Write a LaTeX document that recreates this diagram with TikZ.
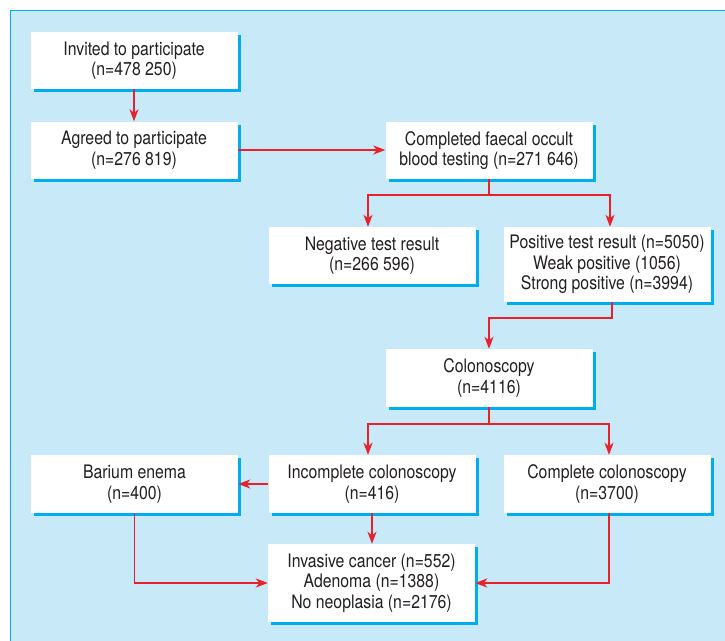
\documentclass[tikz,border=0pt]{standalone}
\usepackage{fontspec}
\setmainfont{TeX Gyre Heros}[FakeStretch=0.85]
\usetikzlibrary{arrows.meta,shadows}
\definecolor{bgblue}{HTML}{C8E9F8}
\definecolor{shcyan}{HTML}{00AEEF}
\definecolor{arrred}{HTML}{E8212B}
\definecolor{txt}{HTML}{231F20}
\tikzset{
  box/.style={rectangle, fill=white, minimum width=207pt, minimum height=57pt,
    inner sep=0pt, align=center, text=txt,
    font=\fontsize{18.6}{20.4}\selectfont,
    general shadow={fill=shcyan, shadow xshift=3pt, shadow yshift=-3pt}},
  tallbox/.style={box, minimum height=77pt},
  arr/.style={draw=arrred, line width=1.8pt,
    -{Stealth[length=12pt,width=9pt,inset=3.5pt]}},
}
\begin{document}
\begin{tikzpicture}[x=1pt,y=-1pt]
\useasboundingbox (0,0) rectangle (725,640);
\clip (0,0) rectangle (725,640);
\fill[white] (0,0) rectangle (725,640);
\draw[fill=bgblue, draw=shcyan, line width=1.5pt] (10.5,10.5) rectangle (740,660);

\node[box] (inv) at (134,60.5) {Invited to participate\\(n=478 250)};
\node[box] (agr) at (134,150) {Agreed to participate\\(n=276 819)};
\node[box] (fobt) at (489,150.5) {Completed faecal occult\\blood testing (n=271 646)};
\node[box] (neg) at (372,255.5) {Negative test result\\(n=266 596)};
\node[tallbox, minimum height=75pt] (pos) at (607,264.5) {Positive test result (n=5050)\\Weak positive (1056)\\Strong positive (n=3994)};
\node[box, minimum height=58pt] (colo) at (489,378) {Colonoscopy\\(n=4116)};
\node[box, minimum height=58pt] (bar) at (134.5,484) {Barium enema\\(n=400)};
\node[box, minimum height=58pt] (inc) at (372,484) {Incomplete colonoscopy\\(n=416)};
\node[box, minimum height=58pt] (comp) at (607,484) {Complete colonoscopy\\(n=3700)};
\node[tallbox, minimum height=78pt] (res) at (371.5,583) {Invasive cancer (n=552)\\Adenoma (n=1388)\\No neoplasia (n=2176)};

\draw[arr] (inv.south) -- (agr.north);
\draw[arr] (agr.east) -- (agr.east -| fobt.west);
\draw[arr] (fobt.south) -- ++(0,16) -| ([xshift=-4pt]neg.north);
\draw[arr] (fobt.south) -- ++(0,16) -| ([xshift=3pt]pos.north);
\draw[arr] ([xshift=5pt]pos.south) -- ++(0,16) -| (colo.north);
\draw[arr] (colo.south) -- ++(0,17) -| ([xshift=-4pt]inc.north);
\draw[arr] (colo.south) -- ++(0,17) -| ([xshift=2pt]comp.north);
\draw[arr] (inc.west) -- (bar.east);
\draw[arr] (inc.south) -- (inc.south |- res.north);
\draw[arr] (bar.south) |- (res.west);
\draw[arr] ([xshift=2pt]comp.south) |- (res.east);
\end{tikzpicture}
\end{document}
